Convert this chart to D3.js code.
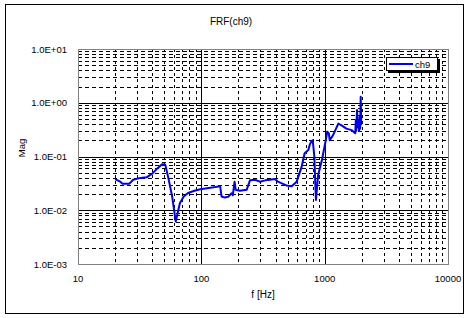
<!DOCTYPE html>
<html>
<head>
<meta charset="utf-8">
<title>FRF(ch9)</title>
<script src="https://cdn.jsdelivr.net/npm/d3@7/dist/d3.min.js"></script>
<style>
  body { margin:0; background:#fff; }
  svg { font-family: "Liberation Sans", Arial, sans-serif; }
</style>
</head>
<body>
<script>
// data
var freq = [20,22,23,26,28,32,36,40,44,48,51,54,58,62,64,67,72,78,88,98,115,130,142,146,155,165,176,180,186,190,205,233,248,272,298,330,360,396,418,459,490,540,593,650,688,737,760,780,800,825,840,850,865,885,950,1010,1050,1080,1100,1170,1290,1370,1500,1650,1770,1790,1800,1830,1850,1880,1900,1920,1940,1960,1980,2000];
var mag = [0.038,0.034,0.031,0.031,0.037,0.040,0.041,0.048,0.060,0.072,0.070,0.040,0.018,0.0062,0.0085,0.0135,0.018,0.021,0.023,0.0245,0.026,0.027,0.028,0.018,0.0172,0.0178,0.0207,0.019,0.034,0.024,0.023,0.024,0.036,0.037,0.034,0.036,0.037,0.038,0.034,0.031,0.029,0.028,0.034,0.064,0.115,0.132,0.17,0.19,0.20,0.10,0.03,0.0155,0.025,0.045,0.086,0.176,0.29,0.27,0.20,0.25,0.41,0.38,0.33,0.31,0.27,0.48,0.30,0.73,0.35,0.40,0.30,0.55,0.33,1.29,0.40,0.45];
var xTicks = [10,100,1000,10000];
var yTicks = [10,1,0.1,0.01,0.001];
var yTickLabels = ["1.0E+01","1.0E+00","1.0E-01","1.0E-02","1.0E-03"];

var W = 469, H = 318;
var m = {left:78, right:448, top:49, bottom:264};

var svg = d3.select("body").append("svg")
  .attr("width", W).attr("height", H);

svg.append("rect").attr("x",5.5).attr("y",4.5).attr("width",458).attr("height",309)
  .attr("fill","#fff").attr("stroke","#000").attr("stroke-width",1);

var x = d3.scaleLog().domain([10,10000]).range([m.left, m.right]);
var y = d3.scaleLog().domain([0.001,10]).range([m.bottom, m.top]);

var grid = svg.append("g");
// minor grid
var minorX = [], minorY = [];
for (var d = 10; d < 10000; d *= 10) for (var k = 2; k < 10; k++) minorX.push(d*k);
for (var d2 = 0.001; d2 < 9; d2 *= 10) for (var k2 = 2; k2 < 10; k2++) minorY.push(d2*k2);

grid.selectAll(".mx").data(minorX).enter().append("line")
  .attr("x1", function(d){ return Math.round(x(d))+0.5; })
  .attr("x2", function(d){ return Math.round(x(d))+0.5; })
  .attr("y1", m.top).attr("y2", m.bottom)
  .attr("stroke","#000").attr("stroke-dasharray","3,3");
grid.selectAll(".my").data(minorY).enter().append("line")
  .attr("y1", function(d){ return Math.round(y(d))+0.5; })
  .attr("y2", function(d){ return Math.round(y(d))+0.5; })
  .attr("x1", m.left).attr("x2", m.right)
  .attr("stroke","#000").attr("stroke-dasharray","4,3");
// major grid
grid.selectAll(".Mx").data(xTicks.slice(1,3)).enter().append("line")
  .attr("x1", function(d){ return Math.round(x(d))+0.5; })
  .attr("x2", function(d){ return Math.round(x(d))+0.5; })
  .attr("y1", m.top).attr("y2", m.bottom).attr("stroke","#000");
grid.selectAll(".My").data(yTicks.slice(1,4)).enter().append("line")
  .attr("y1", function(d){ return Math.round(y(d))+0.5; })
  .attr("y2", function(d){ return Math.round(y(d))+0.5; })
  .attr("x1", m.left).attr("x2", m.right).attr("stroke","#000");

svg.append("rect").attr("x",m.left+0.5).attr("y",m.top+0.5)
  .attr("width",m.right-m.left).attr("height",m.bottom-m.top)
  .attr("fill","none").attr("stroke","#808080");

// axis labels
svg.selectAll(".xl").data(xTicks).enter().append("text")
  .attr("x", function(d){ return x(d); }).attr("y", 282)
  .attr("text-anchor","middle").attr("font-size",9.5)
  .text(function(d){ return d; });
svg.selectAll(".yl").data(yTicks).enter().append("text")
  .attr("x", 67).attr("y", function(d){ return y(d)+3.5; })
  .attr("text-anchor","end").attr("font-size",9.5)
  .text(function(d,i){ return yTickLabels[i]; });

svg.append("text").attr("x",231).attr("y",25).attr("text-anchor","middle")
  .attr("font-size",10).text("FRF(ch9)");
svg.append("text").attr("x",263).attr("y",298).attr("text-anchor","middle")
  .attr("font-size",10).text("f [Hz]");
svg.append("text").attr("transform","translate(25,148) rotate(-90)")
  .attr("text-anchor","middle").attr("font-size",9.5).text("Mag");

// series
var line = d3.line()
  .x(function(d,i){ return x(freq[i]); })
  .y(function(d){ return y(d); });
svg.append("path").datum(mag).attr("d", line)
  .attr("fill","none").attr("stroke","#0000ee").attr("stroke-width",2)
  .attr("stroke-linejoin","round");

// legend
var lg = svg.append("g").attr("transform","translate(386,57)");
lg.append("rect").attr("x",2).attr("y",2).attr("width",52).attr("height",14).attr("fill","#000");
lg.append("rect").attr("x",0.5).attr("y",0.5).attr("width",51).attr("height",13)
  .attr("fill","#fff").attr("stroke","#000");
lg.append("line").attr("x1",3).attr("x2",27).attr("y1",7).attr("y2",7)
  .attr("stroke","#0000ee").attr("stroke-width",2);
lg.append("text").attr("x",29).attr("y",10.5).attr("font-size",9.5).text("ch9");
</script>
</body>
</html>
